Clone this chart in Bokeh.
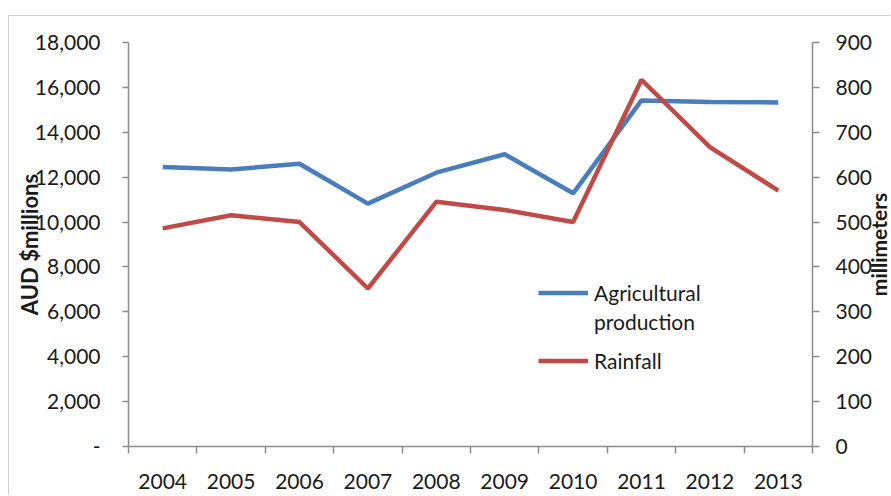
import numpy as np
from bokeh.plotting import figure
from bokeh.models import (Range1d, LinearAxis, FixedTicker, NumeralTickFormatter,
                          Legend, LegendItem, Label)
from bokeh.embed import file_html
from bokeh.resources import INLINE

# Annual series
years = ["2004", "2005", "2006", "2007", "2008", "2009", "2010", "2011", "2012", "2013"]
agri_production = [12450, 12340, 12600, 10820, 12200, 13020, 11280, 15420, 15350, 15330]  # AUD $millions
rainfall = [486, 515, 500, 352, 545, 527, 500, 817, 667, 570]  # millimeters

left_ticks = list(range(0, 18001, 2000))
right_ticks = list(range(0, 901, 100))
AGRI_MAX, RAIN_MAX = 18000, 900

FONT = "Lato"
AXIS_GREY = "#8C8C8C"
TEXT = "#1A1A1A"
BLUE = "#4A7EBB"
RED = "#BE4B48"

n = len(years)
# each year occupies one unit band; points sit at the band centres
xpos = np.arange(n) + 0.5

# layout in pixels: the data frame fills the whole canvas and the axes are pinned
# to the edges of the plotting area, so ticks, labels and titles all sit inside it
CANVAS_W, CANVAS_H = 882, 480
AREA_LEFT, AREA_RIGHT = 119, 803      # band area, from the canvas left
AREA_TOP, AREA_BOTTOM = 26, 430       # value area, from the canvas top
px_x = (AREA_RIGHT - AREA_LEFT) / n
x_range = Range1d(-AREA_LEFT / px_x, n + (CANVAS_W - AREA_RIGHT) / px_x)


def value_range(vmax):
    per_px = vmax / (AREA_BOTTOM - AREA_TOP)
    return Range1d(-(CANVAS_H - AREA_BOTTOM) * per_px, vmax + AREA_TOP * per_px)


p = figure(width=CANVAS_W, height=CANVAS_H, output_backend="svg", toolbar_location=None,
           x_range=x_range, y_range=value_range(AGRI_MAX),
           min_border=0, x_axis_type=None, y_axis_type=None)
p.outline_line_color = None
p.grid.visible = False
p.background_fill_color = "white"
p.border_fill_color = "white"
# thin grey chart-area border along the top and left
p.styles = {"margin-left": "8px", "margin-top": "15px",
            "border-left": "1px solid #D0D0D0", "border-top": "1px solid #D0D0D0"}

p.extra_y_ranges = {"rain": value_range(RAIN_MAX)}

# category axis: labels centred in bands, tick marks on band boundaries
xaxis = LinearAxis(ticker=FixedTicker(ticks=list(xpos), minor_ticks=list(range(n + 1))),
                   major_label_overrides={float(x): y for x, y in zip(xpos, years)},
                   bounds=(0, n), fixed_location=0)
xaxis.major_tick_out = 0
xaxis.major_tick_in = 0
xaxis.minor_tick_out = 7
xaxis.minor_tick_in = 0
xaxis.minor_tick_line_color = AXIS_GREY
xaxis.major_label_standoff = 20
p.add_layout(xaxis, "below")

yaxis = LinearAxis(ticker=FixedTicker(ticks=left_ticks),
                   formatter=NumeralTickFormatter(format="0,0"),
                   major_label_overrides={0: "-"},
                   bounds=(0, AGRI_MAX), fixed_location=0)
yaxis.major_tick_out = 6
yaxis.major_tick_in = 0
yaxis.major_label_standoff = 22
p.add_layout(yaxis, "left")

raxis = LinearAxis(y_range_name="rain", ticker=FixedTicker(ticks=right_ticks),
                   bounds=(0, RAIN_MAX), fixed_location=n)
raxis.major_tick_out = 7
raxis.major_tick_in = 0
raxis.major_label_standoff = 16
p.add_layout(raxis, "right")

for ax in (xaxis, yaxis, raxis):
    ax.axis_line_color = AXIS_GREY
    ax.axis_line_width = 1.5
    ax.major_tick_line_color = AXIS_GREY
    ax.major_tick_line_width = 1.5
    ax.minor_tick_line_width = 1.5
    ax.major_label_text_font = FONT
    ax.major_label_text_font_size = "21px"
    ax.major_label_text_color = TEXT
yaxis.minor_tick_line_color = None
raxis.minor_tick_line_color = None

# axis titles (screen offsets from the canvas bottom-left)
title_y = CANVAS_H - (AREA_TOP + AREA_BOTTOM) / 2
for text, sx, size in (("AUD $millions", 20, "22px"), ("millimeters", 869, "21px")):
    p.add_layout(Label(x=sx, y=title_y, x_units="screen", y_units="screen", text=text,
                       angle=np.pi / 2, text_align="center", text_baseline="middle",
                       text_font=FONT, text_font_style="bold", text_font_size=size,
                       text_color=TEXT))

r_agri = p.line(xpos, agri_production, line_color=BLUE, line_width=4.5)
r_rain = p.line(xpos, rainfall, line_color=RED, line_width=4.5, y_range_name="rain")


def styled_legend(items, location):
    lg = Legend(items=items, location=location, orientation="vertical")
    lg.glyph_width = 50
    lg.glyph_height = 29
    lg.label_height = 29
    lg.label_standoff = 6
    lg.padding = 0
    lg.margin = 0
    lg.spacing = 0
    lg.border_line_color = None
    lg.background_fill_alpha = 0
    lg.label_text_font = FONT
    lg.label_text_font_size = "21px"
    lg.label_text_color = TEXT
    return lg


# the production entry wraps onto a second line, with the swatch beside the first
p.add_layout(styled_legend([LegendItem(label="Agricultural", renderers=[r_agri]),
                            LegendItem(label="production", renderers=[])], (529, 160)), "center")
p.add_layout(styled_legend([LegendItem(label="Rainfall", renderers=[r_rain])], (529, 121)), "center")

open("out.html", "w").write(file_html(p, INLINE))
